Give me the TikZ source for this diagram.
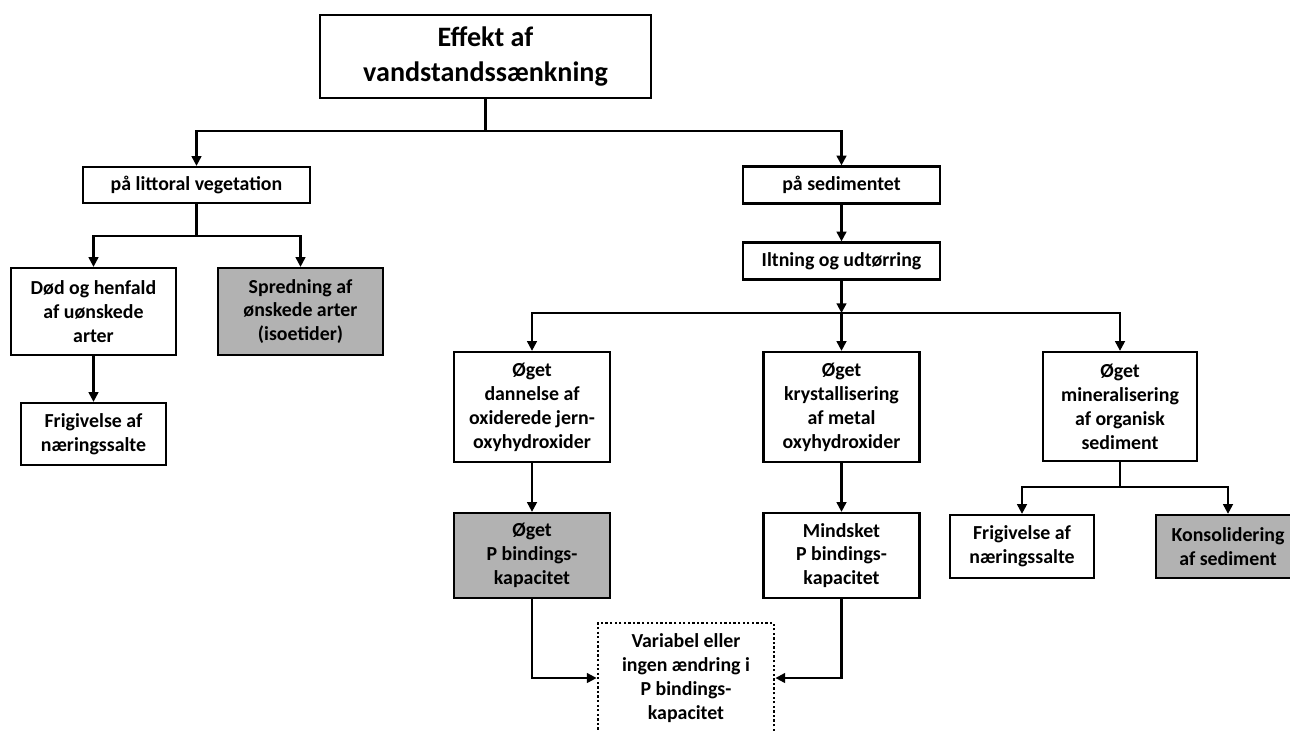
\documentclass[tikz,border=0pt]{standalone}
\usepackage{fontspec}
\setmainfont{Carlito}
\usetikzlibrary{arrows.meta}

\begin{document}
\begin{tikzpicture}[
	x = 0.02cm, y = -0.02cm, % one unit = one pixel of the reference
	> = {Triangle[length=5.5pt, width=5.5pt]}, % arrow head style
	line width = 1.2pt, % line style
	font=\bfseries\fontsize{11.3}{13.6}\selectfont
	]
	
	\tikzstyle{box}=[
	draw = black,
	line width = 1.3pt,
	fill = white,
	rectangle,
	align = center,
	inner sep = 0pt
	]
	\tikzstyle{good}=[box, fill = gray!60]
	\tikzstyle{open}=[box, line width = 1.6pt, dash pattern = on 1.3pt off 1.3pt]
	
	\useasboundingbox (0,0) rectangle (1290,731);
	
	\node[box, minimum width=331*0.02cm, minimum height=83*0.02cm, font=\bfseries\fontsize{16}{19.5}\selectfont] (eff) at (485.5,56.5) {Effekt af\\vandstandssænkning};
	
	% left branch
	\node[box, minimum width=227*0.02cm, minimum height=36*0.02cm] (lit) at (196.5,185) {på littoral vegetation};
	\node[box, minimum width=165*0.02cm, minimum height=87*0.02cm] (dod) at (93.5,311.5) {Død og henfald\\af uønskede\\arter};
	\node[good, minimum width=165*0.02cm, minimum height=87*0.02cm] (spr) at (300.5,311.5) {Spredning af\\ønskede arter\\(isoetider)};
	\node[box, minimum width=145*0.02cm, minimum height=62*0.02cm] (fri1) at (93.5,434) {Frigivelse af\\næringssalte};
	
	% right branch
	\node[box, minimum width=197*0.02cm, minimum height=37*0.02cm] (sed) at (841.5,185) {på sedimentet};
	\node[box, minimum width=197*0.02cm, minimum height=37*0.02cm] (ilt) at (841.5,261) {Iltning og udtørring};
	\node[box, minimum width=156*0.02cm, minimum height=110*0.02cm] (dan) at (532,407) {Øget\\dannelse af\\oxiderede jern-\\oxyhydroxider};
	\node[box, minimum width=156*0.02cm, minimum height=110*0.02cm] (kry) at (841.5,407) {Øget\\krystallisering\\af metal\\oxyhydroxider};
	\node[box, minimum width=154*0.02cm, minimum height=109*0.02cm] (min) at (1120,406.5) {Øget\\mineralisering\\af organisk\\sediment};
	\node[good, minimum width=156*0.02cm, minimum height=85*0.02cm] (oeg) at (532,555.5) {Øget\\P bindings-\\kapacitet};
	\node[box, minimum width=156*0.02cm, minimum height=85*0.02cm] (mnd) at (841.5,555.5) {Mindsket\\P bindings-\\kapacitet};
	\node[open, minimum width=176*0.02cm, minimum height=110*0.02cm] (var) at (686,678) {Variabel eller\\ingen ændring i\\P bindings-\\kapacitet};
	\node[box, minimum width=144*0.02cm, minimum height=63*0.02cm] (fri2) at (1022,546.5) {Frigivelse af\\næringssalte};
	\node[good, minimum width=144*0.02cm, minimum height=63*0.02cm] (kon) at (1228,546.5) {Konsolidering\\af sediment};
	
	% branch points
	\coordinate (b0) at (485.5,131);
	\coordinate (b1) at (196.5,236);
	\coordinate (b2) at (841.5,313);
	\coordinate (b3) at (1120,487);
	
	\draw (eff) -- (b0);
	\draw[->] (b0) -| (lit);
	\draw[->] (b0) -| (sed);
	
	\draw (lit) -- (b1);
	\draw[->] (b1) -| (dod);
	\draw[->] (b1) -| (spr);
	\draw[->] (dod) -- (fri1);
	
	\draw[->] (sed) -- (ilt);
	\draw[->] (ilt) -- (b2);
	\draw[->] (b2) -| (dan);
	\draw[->] (b2) -- (kry);
	\draw[->] (b2) -| (min);
	\draw[->] (dan) -- (oeg);
	\draw[->] (kry) -- (mnd);
	\draw[->] (oeg) |- (var);
	\draw[->] (mnd) |- (var);
	
	\draw (min) -- (b3);
	\draw[->] (b3) -| (fri2);
	\draw[->] (b3) -| (kon);
	
\end{tikzpicture}
\end{document}
